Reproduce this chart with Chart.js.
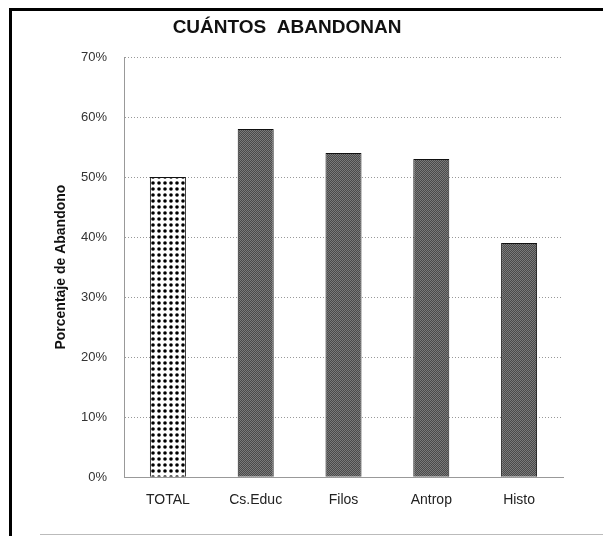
<!DOCTYPE html>
<html>
<head>
<meta charset="utf-8">
<script src="https://cdn.jsdelivr.net/npm/chart.js@4.4.1/dist/chart.umd.min.js"></script>
<style>
  html, body { margin: 0; padding: 0; background: #fff; }
  #wrap { width: 603px; height: 536px; }
</style>
</head>
<body>
<div id="wrap"><canvas id="bars" width="603" height="536"></canvas></div>
<script>
// Datos del gráfico
const categories = ['TOTAL', 'Cs.Educ', 'Filos', 'Antrop', 'Histo'];
const abandono = [50, 58, 54, 53, 39];
const chartTitle = 'CUÁNTOS  ABANDONAN';
const yTitle = 'Porcentaje de Abandono';

// Trama de puntos para la barra TOTAL
function dotPattern() {
    const c = document.createElement('canvas');
    c.width = 6; c.height = 6;
    const g = c.getContext('2d');
    g.fillStyle = '#fff';
    g.fillRect(0, 0, 6, 6);
    g.fillStyle = '#000';
    g.beginPath();
    g.arc(3, 3, 1.8, 0, Math.PI * 2);
    g.fill();
    return g.createPattern(c, 'repeat');
}

// Trama gris oscura para las demás barras
function greyPattern() {
    const c = document.createElement('canvas');
    c.width = 2; c.height = 2;
    const g = c.getContext('2d');
    g.fillStyle = '#4a4a4a';
    g.fillRect(0, 0, 2, 2);
    g.fillStyle = '#7a7a7a';
    g.fillRect(0, 0, 1, 1);
    g.fillRect(1, 1, 1, 1);
    return g.createPattern(c, 'repeat');
}

const dots = dotPattern();
const grey = greyPattern();
const fontFam = '"Liberation Sans", Arial, sans-serif';

// Marco y título
const framePlugin = {
    id: 'frame',
    afterDraw(chart) {
        const ctx = chart.ctx;
        ctx.save();
        ctx.fillStyle = '#000';
        ctx.fillRect(9, 8, 594, 3);
        ctx.fillRect(9, 8, 3, 528);
        ctx.fillStyle = '#bbb';
        ctx.fillRect(40, 534, 563, 1);
        ctx.fillStyle = '#111';
        ctx.font = 'bold 19px ' + fontFam;
        ctx.textAlign = 'center';
        ctx.textBaseline = 'middle';
        ctx.fillText(chartTitle, 287, 28);
        ctx.restore();
    }
};

const ctx = document.getElementById('bars').getContext('2d');
new Chart(ctx, {
    type: 'bar',
    data: {
        labels: categories,
        datasets: [{
            data: abandono,
            backgroundColor: [dots, grey, grey, grey, grey],
            borderColor: '#111',
            borderWidth: 1,
            categoryPercentage: 1,
            barPercentage: 0.41
        }]
    },
    options: {
        responsive: false,
        animation: false,
        layout: { padding: { top: 57, right: 40, bottom: 12, left: 0 } },
        plugins: {
            legend: { display: false },
            tooltip: { enabled: false }
        },
        scales: {
            x: {
                grid: { display: false, drawTicks: false },
                border: { color: '#999', dash: [1, 2] },
                ticks: {
                    color: '#222',
                    padding: 15,
                    font: { family: fontFam, size: 14 }
                }
            },
            y: {
                min: 0,
                max: 70,
                afterFit(scale) { scale.width = 124; },
                grid: { color: '#999', drawTicks: false },
                border: { color: '#999', dash: [1, 2] },
                ticks: {
                    stepSize: 10,
                    color: '#333',
                    padding: 17,
                    font: { family: fontFam, size: 13 },
                    callback: v => v + '%'
                },
                title: {
                    display: true,
                    text: yTitle,
                    color: '#111',
                    padding: { top: 53, bottom: 0 },
                    font: { family: fontFam, size: 14, weight: 'bold' }
                }
            }
        }
    },
    plugins: [framePlugin]
});
</script>
</body>
</html>
